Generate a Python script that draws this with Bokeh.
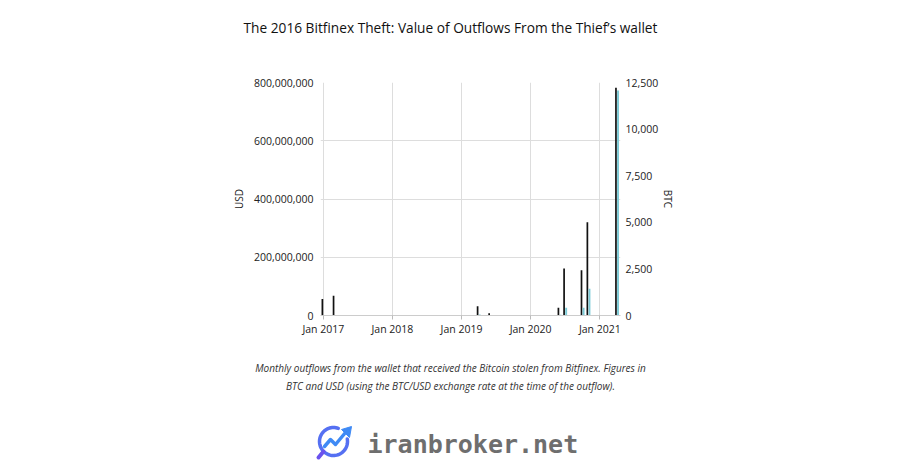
from datetime import datetime
import numpy as np
from bokeh.plotting import figure
from bokeh.layouts import column
from bokeh.models import (Range1d, LinearAxis, NumeralTickFormatter, FixedTicker,
                          DatetimeTickFormatter, ColumnDataSource)
from bokeh.core.properties import value
from bokeh.embed import file_html
from bokeh.resources import INLINE

# ---- data ----
months = ["2017-01", "2017-03", "2019-04", "2019-06", "2020-06", "2020-07",
          "2020-10", "2020-11", "2021-04"]
usd = [57e6, 68e6, 32e6, 8e6, 27e6, 161e6, 155e6, 320e6, 782e6]
btc = [15, 15, 50, 10, 40, 415, 420, 1440, 12070]
year_ticks = ["2017-01-01", "2018-01-01", "2019-01-01", "2020-01-01", "2021-01-01"]
usd_ticks = [0, 200e6, 400e6, 600e6, 800e6]
btc_ticks = [0, 2500, 5000, 7500, 10000, 12500]

title = "The 2016 Bitfinex Theft: Value of Outflows From the Thief\u2019s wallet"
caption1 = "Monthly outflows from the wallet that received the Bitcoin stolen from Bitfinex. Figures in"
caption2 = "BTC and USD (using the BTC/USD exchange rate at the time of the outflow)."
brand = "iranbroker.net"

FONT = "Open Sans"
DAY = 86400000.0
W = 884
H_HEAD, H_CHART, H_FOOT = 50, 290, 121


def ms(s):
    return datetime.strptime(s, "%Y-%m-%d").timestamp() * 1000.0


def text_fig(h):
    f = figure(width=W, height=h, output_backend="svg", toolbar_location=None,
               x_range=Range1d(0, W), y_range=Range1d(h, 0),
               min_border=0, min_border_left=0, min_border_right=0,
               min_border_top=0, min_border_bottom=0, frame_align=False)
    f.axis.visible = False
    f.grid.visible = False
    f.outline_line_color = None
    f.background_fill_color = "white"
    f.border_fill_color = "white"
    return f


# ---- header ----
head = text_fig(H_HEAD)
head.text(x=[450], y=[27], text=[title], text_font=value(FONT), text_font_size="13.7px",
          text_color="#111111", text_align="center", text_baseline="middle")

# ---- chart ----
mx = [ms(m + "-01") for m in months]
src = ColumnDataSource(dict(
    xu=[x - 5 * DAY for x in mx],
    xb=[x + 6 * DAY for x in mx],
    usd=usd, btc=btc))

p = figure(width=W, height=H_CHART, output_backend="svg", toolbar_location=None,
           x_axis_type="datetime",
           x_range=Range1d(ms("2016-12-17"), ms("2021-04-20")),
           y_range=Range1d(0, 800e6),
           min_border_left=320, min_border_right=W - 620,
           min_border_top=32, min_border_bottom=25, frame_align=False)
p.outline_line_color = None
p.background_fill_color = "white"
p.border_fill_color = "white"
p.extra_y_ranges = {"btc": Range1d(0, 12500)}

p.vbar(x="xu", top="usd", width=9 * DAY, source=src, fill_color="#111111",
       line_color=None)
p.vbar(x="xb", top="btc", width=10 * DAY, source=src, fill_color="#7ccbd7",
       line_color=None, y_range_name="btc")

xa = p.xaxis[0]
xa.ticker = FixedTicker(ticks=[ms(t) for t in year_ticks])
xa.formatter = DatetimeTickFormatter(years="Jan %Y", months="Jan %Y", days="Jan %Y")
xa.axis_line_color = "#cccccc"
xa.major_tick_line_color = "#bbbbbb"
xa.major_tick_in = 0
xa.major_tick_out = 4
xa.minor_tick_line_color = None
xa.major_label_text_font = FONT
xa.major_label_text_font_size = "10.5px"
xa.major_label_text_color = "#222222"
xa.major_label_standoff = 2

ya = p.yaxis[0]
ya.ticker = FixedTicker(ticks=usd_ticks)
ya.formatter = NumeralTickFormatter(format="0,0")
ya.axis_line_color = None
ya.major_tick_line_color = None
ya.major_tick_out = 0
ya.major_tick_in = 0
ya.minor_tick_line_color = None
ya.major_label_text_font = FONT
ya.major_label_text_font_size = "10.5px"
ya.major_label_text_color = "#222222"
ya.major_label_standoff = 7
ya.axis_label = "USD"
ya.axis_label_text_font = FONT
ya.axis_label_text_font_size = "10px"
ya.axis_label_text_font_style = "normal"
ya.axis_label_text_color = "#222222"
ya.axis_label_standoff = 5

ra = LinearAxis(y_range_name="btc", ticker=FixedTicker(ticks=btc_ticks),
                formatter=NumeralTickFormatter(format="0,0"))
ra.axis_line_color = None
ra.major_tick_line_color = None
ra.major_tick_out = 0
ra.major_tick_in = 0
ra.minor_tick_line_color = None
ra.major_label_text_font = FONT
ra.major_label_text_font_size = "10.5px"
ra.major_label_text_color = "#222222"
ra.major_label_standoff = 5
ra.axis_label = "BTC"
ra.axis_label_text_font = FONT
ra.axis_label_text_font_size = "10px"
ra.axis_label_text_font_style = "normal"
ra.axis_label_text_color = "#222222"
ra.axis_label_standoff = 0
p.add_layout(ra, "right")

p.xgrid.ticker = FixedTicker(ticks=[ms(t) for t in year_ticks])
p.xgrid.grid_line_color = "#dddddd"
p.ygrid.ticker = FixedTicker(ticks=usd_ticks)
p.ygrid.grid_line_color = "#dddddd"

# ---- footer ----
foot = text_fig(H_FOOT)
foot.text(x=[450, 450], y=[27, 45], text=[caption1, caption2], text_font=value(FONT),
          text_font_size="10px", text_font_style="italic", text_color="#333333",
          text_align="center", text_baseline="middle")
foot.text(x=[367], y=[104], text=[brand], text_font=value("DejaVu Sans Mono"),
          text_font_size="25px", text_font_style="bold", text_color="#6e6e6e",
          text_align="left", text_baseline="middle")
# logo icon: open ring (magnifier) with handle and a rising arrow
t = np.radians(np.linspace(70, 370, 60))
foot.line(x=333 + 14 * np.cos(t), y=101 - 14 * np.sin(t), line_color="#5570f2",
          line_width=3.5, line_cap="round")
foot.line(x=[323, 318], y=[111, 117], line_color="#6a52ee", line_width=4, line_cap="round")
foot.line(x=[324, 330, 335, 345], y=[106, 99, 104, 92], line_color="#3f8af5",
          line_width=3.5, line_join="round", line_cap="round")
foot.patch(x=[341, 351, 349], y=[89, 86, 97], color="#3f8af5")

layout = column(head, p, foot, spacing=0)
open("out.html", "w").write(file_html(layout, INLINE))
